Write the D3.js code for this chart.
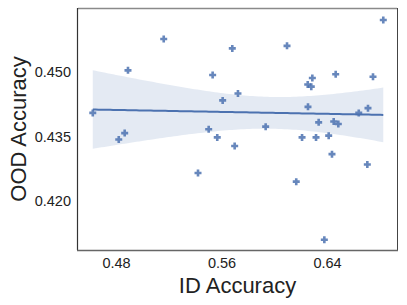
<!DOCTYPE html>
<html>
<head>
<meta charset="utf-8">
<script src="https://cdn.jsdelivr.net/npm/d3@7"></script>
<style>
  body { margin: 0; background: #fff; }
  text { font-family: "Liberation Sans", Arial, sans-serif; fill: #222; }
</style>
</head>
<body>
<div id="chart"></div>
<script>
// ID accuracy (x) and OOD accuracy (y) per run
var idAcc = [0.4620, 0.4817, 0.4862, 0.4887, 0.5158, 0.5418, 0.5499, 0.5529, 0.5564, 0.5605,
             0.5678, 0.5696, 0.5721, 0.5931, 0.6093, 0.6163, 0.6207, 0.6250, 0.6252, 0.6277,
             0.6285, 0.6313, 0.6333, 0.6376, 0.6409, 0.6434, 0.6447, 0.6462, 0.6482, 0.6637,
             0.6702, 0.6707, 0.6745, 0.6823];
var oodAcc = [0.4405, 0.4343, 0.4358, 0.4504, 0.4577, 0.4265, 0.4367, 0.4493, 0.4348, 0.4434,
              0.4555, 0.4328, 0.4450, 0.4373, 0.4561, 0.4245, 0.4348, 0.4471, 0.4419, 0.4466,
              0.4486, 0.4348, 0.4383, 0.4110, 0.4352, 0.4309, 0.4385, 0.4495, 0.4379, 0.4405,
              0.4285, 0.4416, 0.4489, 0.4621];
var xTicks = [0.48, 0.56, 0.64];
var yTicks = [0.420, 0.435, 0.450];

var W = 407, H = 305;
var m = {left: 78, top: 8, right: 397, bottom: 250};
var blue = "#4c72b0";

var svg = d3.select("#chart").append("svg").attr("width", W).attr("height", H);

var x = d3.scaleLinear().domain([0.4508, 0.6927]).range([m.left, m.right]);
var y = d3.scaleLinear().domain([0.4086, 0.4649]).range([m.bottom, m.top]);

// linear fit + 95% band (analytic, stands in for seaborn's bootstrap)
var n = idAcc.length;
var mx = d3.mean(idAcc), my = d3.mean(oodAcc);
var sxx = 0, sxy = 0;
idAcc.forEach(function (v, i) { sxx += (v - mx) * (v - mx); sxy += (v - mx) * (oodAcc[i] - my); });
var slope = sxy / sxx, icpt = my - slope * mx;
var sse = 0;
idAcc.forEach(function (v, i) { var r = oodAcc[i] - (icpt + slope * v); sse += r * r; });
var s = Math.sqrt(sse / (n - 2)), t = 2.037;
var grid = d3.range(0, 101).map(function (k) {
  var xv = d3.min(idAcc) + k / 100 * (d3.max(idAcc) - d3.min(idAcc));
  var yh = icpt + slope * xv;
  var se = s * Math.sqrt(1 / n + (xv - mx) * (xv - mx) / sxx);
  return {x: xv, y: yh, lo: yh - t * se, hi: yh + t * se};
});

svg.append("path").datum(grid)
  .attr("fill", blue).attr("fill-opacity", 0.15)
  .attr("d", d3.area().x(function (d) { return x(d.x); })
    .y0(function (d) { return y(d.lo); }).y1(function (d) { return y(d.hi); }));

svg.append("path").datum(grid)
  .attr("fill", "none").attr("stroke", blue).attr("stroke-width", 2)
  .attr("d", d3.line().x(function (d) { return x(d.x); }).y(function (d) { return y(d.y); }));

// plus-shaped markers
var plus = "M-1.3,-3.5H1.3V-1.3H3.5V1.3H1.3V3.5H-1.3V1.3H-3.5V-1.3H-1.3Z";
svg.append("g").selectAll("path")
  .data(idAcc.map(function (v, i) { return [v, oodAcc[i]]; }))
  .enter().append("path")
    .attr("d", plus)
    .attr("transform", function (d) { return "translate(" + x(d[0]) + "," + y(d[1]) + ")"; })
    .attr("fill", blue).attr("fill-opacity", 0.85);

// frame
svg.append("line").attr("x1", m.left).attr("x2", m.right).attr("y1", m.top + 0.5).attr("y2", m.top + 0.5)
  .attr("stroke", "#8a8a8a").attr("stroke-width", 1.5);
svg.append("line").attr("x1", m.right + 0.5).attr("x2", m.right + 0.5).attr("y1", m.top).attr("y2", m.bottom)
  .attr("stroke", "#444").attr("stroke-width", 1);
svg.append("line").attr("x1", m.left - 0.5).attr("x2", m.left - 0.5).attr("y1", m.top).attr("y2", m.bottom)
  .attr("stroke", "#333").attr("stroke-width", 1.2);
svg.append("line").attr("x1", m.left - 1).attr("x2", m.right + 1).attr("y1", m.bottom + 0.5).attr("y2", m.bottom + 0.5)
  .attr("stroke", "#666").attr("stroke-width", 1.5);

// tick labels
svg.append("g").selectAll("text").data(xTicks).enter().append("text")
  .attr("x", function (d) { return x(d); }).attr("y", 268)
  .attr("text-anchor", "middle").style("font-size", "14.5px")
  .text(function (d) { return d3.format(".2f")(d); });

svg.append("g").selectAll("text").data(yTicks).enter().append("text")
  .attr("x", 71).attr("y", function (d) { return y(d) + 5; })
  .attr("text-anchor", "end").style("font-size", "14.5px")
  .text(function (d) { return d3.format(".3f")(d); });

// axis titles
svg.append("text").attr("x", (m.left + m.right) / 2).attr("y", 293)
  .attr("text-anchor", "middle").style("font-size", "22px").text("ID Accuracy");
svg.append("text").attr("transform", "translate(26," + (m.top + m.bottom) / 2 + ") rotate(-90)")
  .attr("text-anchor", "middle").style("font-size", "22px").text("OOD Accuracy");
</script>
</body>
</html>
